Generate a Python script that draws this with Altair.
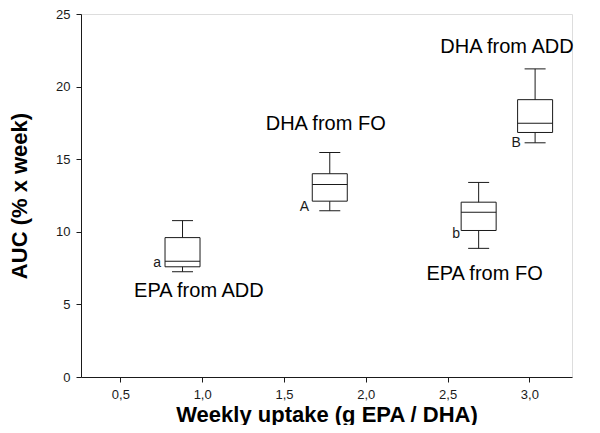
import altair as alt
import pandas as pd

# Box statistics
groups = ["EPA from ADD", "DHA from FO", "EPA from FO", "DHA from ADD"]
x_pos = [0.88, 1.78, 2.69, 3.035]
whisker_low = [7.25, 11.45, 8.86, 16.13]
q1 = [7.59, 12.11, 10.09, 16.84]
median = [7.98, 13.25, 11.34, 17.47]
q3 = [9.6, 14.0, 12.04, 19.1]
whisker_high = [10.77, 15.47, 13.4, 21.22]

# Group label annotations (data coordinates)
label_x = [0.98, 1.755, 2.726, 2.863]
label_y = [5.9, 17.4, 7.12, 22.7]

# Significance letters
letters = ["a", "A", "b", "B"]
letter_x = [0.748, 1.653, 2.576, 2.948]
letter_y = [7.84, 11.69, 9.88, 16.15]

x_ticks = [0.5, 1.0, 1.5, 2.0, 2.5, 3.0]
y_ticks = [0, 5, 10, 15, 20, 25]

boxes = pd.DataFrame({
    "group": groups, "x": x_pos, "lo": whisker_low, "q1": q1,
    "med": median, "q3": q3, "hi": whisker_high,
})
labels = pd.DataFrame({"text": groups, "x": label_x, "y": label_y})
lets = pd.DataFrame({"text": letters, "x": letter_x, "y": letter_y})

FONT = "Liberation Sans"
INK = "#1a1a1a"

xs = alt.Scale(domain=[0.29, 3.23], nice=False, zero=False)
ys = alt.Scale(domain=[0, 25], nice=False)

xaxis = alt.Axis(
    values=x_ticks, grid=False, title="Weekly uptake (g EPA / DHA)",
    labelExpr="replace(format(datum.value, '.1f'), '.', ',')",
    labelFontSize=13, labelFont=FONT, labelColor=INK, labelPadding=6,
    titleFontSize=22, titleFont=FONT, titleFontWeight="bold", titleColor="black",
    titlePadding=3, tickSize=5, tickColor=INK, domainColor=INK,
)
yaxis = alt.Axis(
    values=y_ticks, grid=False, title="AUC (% x week)",
    labelFontSize=13, labelFont=FONT, labelColor=INK, labelPadding=6,
    titleFontSize=22, titleFont=FONT, titleFontWeight="bold", titleColor="black",
    titlePadding=24, tickSize=5, tickColor=INK, domainColor=INK,
)

base = alt.Chart(boxes)

whisk = base.mark_rule(color=INK, strokeWidth=1).encode(
    x=alt.X("x:Q", scale=xs, axis=xaxis),
    y=alt.Y("lo:Q", scale=ys, axis=yaxis),
    y2="hi:Q",
)
box = base.mark_bar(size=35, fill="white", stroke=INK, strokeWidth=1).encode(
    x=alt.X("x:Q", scale=xs), y=alt.Y("q1:Q", scale=ys), y2="q3:Q",
)
med = base.mark_tick(orient="horizontal", size=35, thickness=1, color=INK, opacity=1).encode(
    x=alt.X("x:Q", scale=xs), y=alt.Y("med:Q", scale=ys),
)
cap_lo = base.mark_tick(orient="horizontal", size=21, thickness=1, color=INK, opacity=1).encode(
    x=alt.X("x:Q", scale=xs), y=alt.Y("lo:Q", scale=ys),
)
cap_hi = base.mark_tick(orient="horizontal", size=21, thickness=1, color=INK, opacity=1).encode(
    x=alt.X("x:Q", scale=xs), y=alt.Y("hi:Q", scale=ys),
)
group_text = alt.Chart(labels).mark_text(
    font=FONT, fontSize=20, color="black", align="center", baseline="middle"
).encode(x=alt.X("x:Q", scale=xs), y=alt.Y("y:Q", scale=ys), text="text:N")
letter_text = alt.Chart(lets).mark_text(
    font=FONT, fontSize=14, color=INK, align="right", baseline="middle"
).encode(x=alt.X("x:Q", scale=xs), y=alt.Y("y:Q", scale=ys), text="text:N")

chart = alt.layer(whisk, box, med, cap_lo, cap_hi, group_text, letter_text).properties(
    width=491, height=363,
    autosize=alt.AutoSizeParams(type="none"),
    padding={"left": 73, "top": 6, "right": 20, "bottom": 48},
).configure_view(stroke=INK, strokeWidth=1).configure(background="white")

chart.save("out.html", embed_options={"renderer": "svg", "actions": False})
